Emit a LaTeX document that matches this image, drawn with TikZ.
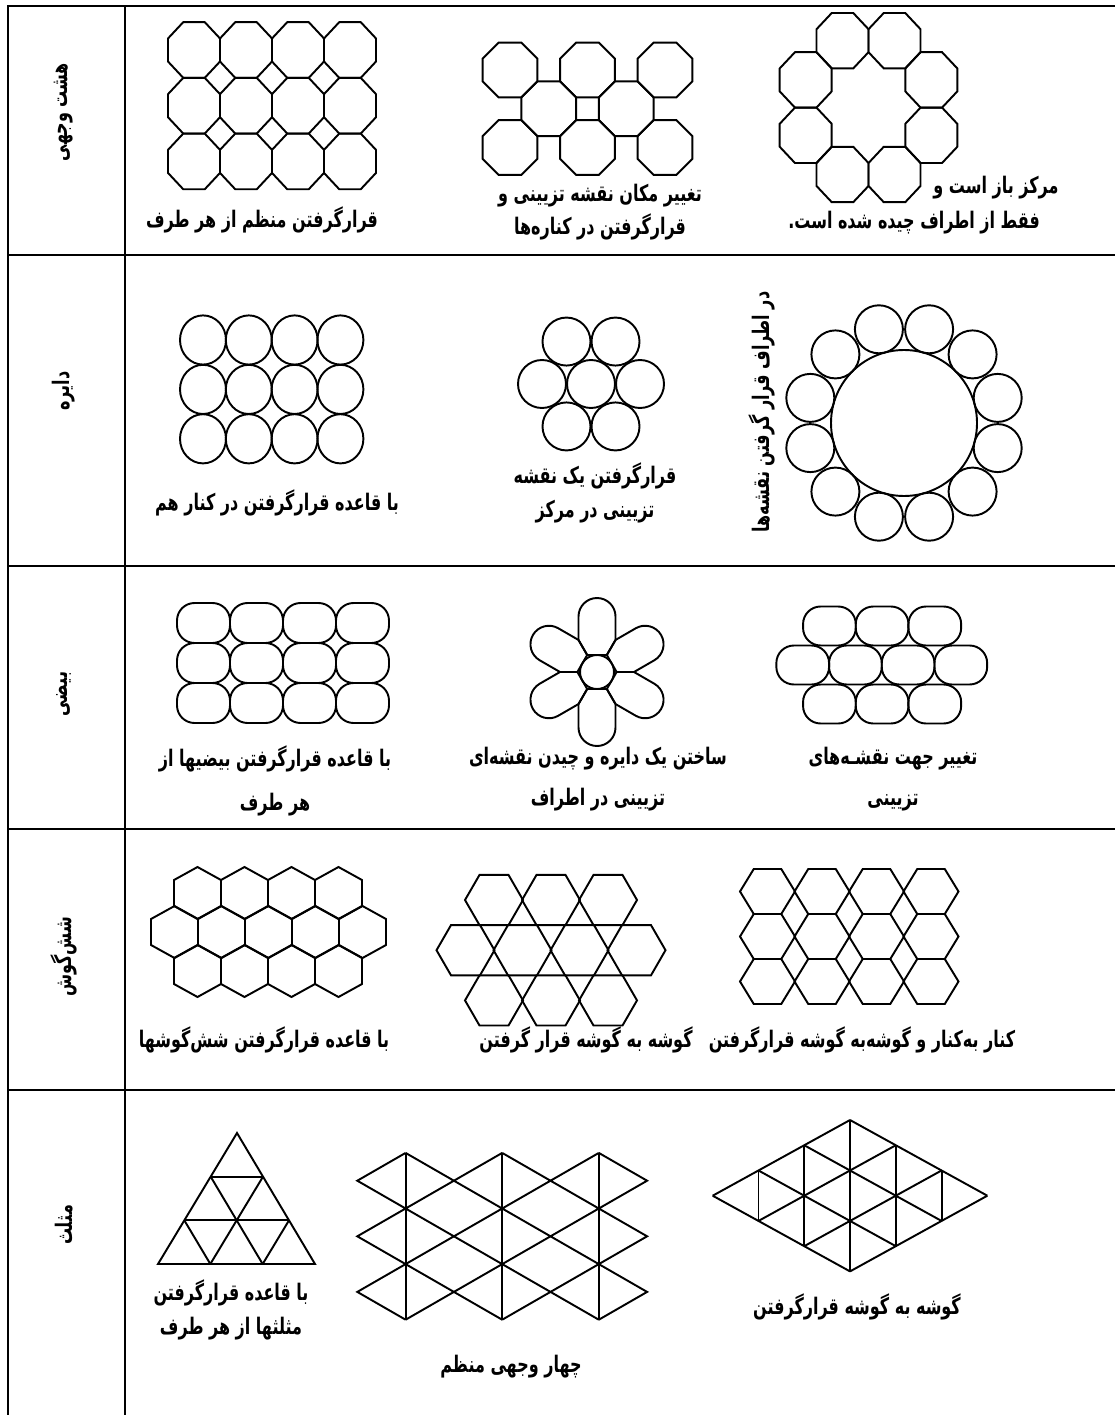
\documentclass[tikz,border=0pt]{standalone}
\usepackage{fontspec}
\usetikzlibrary{calc}
\newfontfamily\farsi[Script=Arabic, FakeStretch=0.7]{DejaVu Sans}
\TeXXeTstate=1
\newcommand{\rl}[1]{\beginR #1\endR}
\newcommand{\octa}[4]{\draw[tile,shift={(#1,#2)},yscale=#4] (-#3*0.4142,-#3) -- (#3*0.4142,-#3) -- (#3,-#3*0.4142) -- (#3,#3*0.4142) -- (#3*0.4142,#3) -- (-#3*0.4142,#3) -- (-#3,#3*0.4142) -- (-#3,-#3*0.4142) -- cycle;}
\newcommand{\hexp}[4]{\draw[tile,shift={(#1,#2)}] (0,-#4) -- (#3,-#4/2) -- (#3,#4/2) -- (0,#4) -- (-#3,#4/2) -- (-#3,-#4/2) -- cycle;}
\newcommand{\hexf}[4]{\draw[tile,shift={(#1,#2)}] (-#3,0) -- (-#3/2,-#4) -- (#3/2,-#4) -- (#3,0) -- (#3/2,#4) -- (-#3/2,#4) -- cycle;}
\newcommand{\stad}[4]{\draw[tile,rounded corners=10pt,shift={(#1,#2)}] (-#3,-#4) rectangle (#3,#4);}
\newcommand{\petal}[3]{\draw[tile,shift={(#1,#2)},rotate=#3] (17,-9.815) -- (32.04,-18.5) -- (55.5,-18.5) arc[start angle=-90,end angle=90,radius=18.5] -- (32.04,18.5) -- (17,9.815) -- cycle;}

\begin{document}
\begin{tikzpicture}[x=0.02cm, y=-0.02cm,
  rule/.style={line width=1.4pt},
  tile/.style={line width=1.1pt, line join=miter},
  capt/.style={font=\farsi\bfseries\fontsize{13}{19}\selectfont, align=center, inner sep=1pt},
  rowlab/.style={font=\farsi\bfseries\fontsize{13}{15}\selectfont, rotate=90, inner sep=1pt}
]
\useasboundingbox (0,0) rectangle (1115,1415);

\draw[rule] (8,1415) -- (8,6) -- (1115,6);
\draw[rule] (125,6) -- (125,1415);
\foreach \y in {255,566,829,1090} \draw[rule] (8,\y) -- (1115,\y);

\node[rowlab] (lab1) at (64,112)  {\rl{هشت وجهی}};
\node[rowlab] (lab2) at (64,391)  {\rl{دایره}};
\node[rowlab] (lab3) at (64,694)  {\rl{بیضی}};
\node[rowlab] (lab4) at (64,957)  {\rl{شش‌گوش}};
\node[rowlab] (lab5) at (64,1225) {\rl{مثلث}};

\foreach \i in {0,...,3} \foreach \j in {0,1,2} \octa{194+52*\i}{50+55.7*\j}{26}{1.07};
\foreach \i in {0,1,2} \foreach \j in {0,1} \octa{510+77.5*\i}{70+77.5*\j}{27.4}{1};
\foreach \i in {0,1} \octa{548.75+77.5*\i}{108.75}{27.4}{1};
\foreach \x/\y in {842.5/40.7, 894.5/40.7, 805.7/79.9, 931.3/79.9, 805.7/135.3, 931.3/135.3, 842.5/174.5, 894.5/174.5} \octa{\x}{\y}{26}{1.065};

\node[capt] (capA)  at (262,220) {\rl{قرارگرفتن منظم از هر طرف}};
\node[capt] (capB)  at (600,212) {\rl{تغییر مکان نقشه تزیینی و}\\ \rl{قرارگرفتن در کناره‌ها}};
\node[capt] (capC1) at (996,188) {\rl{مرکز باز است و}};
\node[capt] (capC2) at (914,223) {\rl{فقط از اطراف چیده شده است.}};

\foreach \i in {0,...,3} \foreach \j in {0,1,2} \draw[tile] (203+45.8*\i,340+49.4*\j) ellipse [x radius=23, y radius=24.6];
\draw[tile] (591,384) circle [radius=24];
\foreach \a in {0,60,...,300} \draw[tile,shift={(591,384)}] (\a:49) circle [radius=24];
\draw[tile] (904,423) circle [radius=73];
\foreach \a in {15,45,...,345} \draw[tile,shift={(904,423)}] (\a:97) circle [radius=24];

\node[capt] (capD) at (277,503)   {\rl{با قاعده قرارگرفتن در کنار هم}};
\node[capt] (capE) at (595,493)   {\rl{قرارگرفتن یک نقشه}\\ \rl{تزیینی در مرکز}};
\node[capt, rotate=90] (capF) at (762,412) {\rl{در اطراف قرار گرفتن نقشه‌ها}};

\foreach \i in {0,...,3} \foreach \j in {0,1,2} \stad{203.5+53*\i}{623+40*\j}{26.5}{20};
\draw[tile] (597,672) circle [radius=17];
\foreach \a in {30,90,...,330} \petal{597}{672}{\a};
\foreach \i in {0,1,2} \stad{829.4+52.7*\i}{626}{26.35}{19.5};
\foreach \i in {0,...,3} \stad{802.7+52.7*\i}{665}{26.35}{19.5};
\foreach \i in {0,1,2} \stad{829.4+52.7*\i}{704}{26.35}{19.5};

\node[capt] (capG) at (275,781) {\rl{با قاعده قرارگرفتن بیضیها از}\\[6pt] \rl{هر طرف}};
\node[capt] (capH) at (598,779) {\rl{ساختن یک دایره و چیدن نقشه‌ای}\\[4pt] \rl{تزیینی در اطراف}};
\node[capt] (capI) at (893,779) {\rl{تغییر جهت نقشـه‌های}\\[4pt] \rl{تزیینی}};

\foreach \i in {0,...,3} \hexp{197.5+47*\i}{893}{23.5}{26};
\foreach \i in {0,...,4} \hexp{174.5+47*\i}{932}{23.5}{26};
\foreach \i in {0,...,3} \hexp{197.5+47*\i}{971}{23.5}{26};
\foreach \i in {0,1,2} \hexf{494+57*\i}{900}{29}{25.1};
\foreach \i in {0,...,3} \hexf{465.5+57*\i}{950.2}{29}{25.1};
\foreach \i in {0,1,2} \hexf{494+57*\i}{1000.4}{29}{25.1};
\foreach \i in {0,...,3} \foreach \j in {0,1,2} \hexf{767.5+54.5*\i}{891.5+45*\j}{27.5}{22.5};

\node[capt] (capJ) at (264,1040) {\rl{با قاعده قرارگرفتن شش‌گوشها}};
\node[capt] (capK) at (586,1040) {\rl{گوشه به گوشه قرار گرفتن}};
\node[capt] (capL) at (862,1040) {\rl{کنار به‌کنار و گوشه‌به گوشه قرارگرفتن}};

\coordinate (tA) at (237,1133);
\coordinate (tB) at (158,1264);
\coordinate (tC) at (315,1264);
\draw[tile] (tA) -- (tB) -- (tC) -- cycle;
\foreach \t in {1/3,2/3} {
  \draw[tile] ($(tB)!\t!(tA)$) -- ($(tC)!\t!(tA)$);
  \draw[tile] ($(tB)!\t!(tC)$) -- ($(tA)!\t!(tC)$);
  \draw[tile] ($(tC)!\t!(tB)$) -- ($(tA)!\t!(tB)$);
}
\foreach \k in {1,3,5} \draw[tile] ({357.3+48.3*\k},1152.9) -- ({357.3+48.3*\k},1319.7);
\foreach \e/\o in {0/1,2/1,2/3,4/3,4/5,6/5}
  \draw[tile] ({357.3+48.3*\o},1152.9) -- ({357.3+48.3*\e},1180.7) -- ({357.3+48.3*\o},1208.5) -- ({357.3+48.3*\e},1236.3) -- ({357.3+48.3*\o},1264.1) -- ({357.3+48.3*\e},1291.9) -- ({357.3+48.3*\o},1319.7);
\foreach \a in {0,...,3} \draw[tile] ({712.7+45.77*\a},{1195.7-25.23*\a}) -- ({712.7+45.77*(\a+3)},{1195.7-25.23*\a+75.69});
\foreach \b in {0,...,3} \draw[tile] ({712.7+45.77*\b},{1195.7+25.23*\b}) -- ({712.7+45.77*(\b+3)},{1195.7+25.23*\b-75.69});
\foreach \s/\m in {1/1,2/2,3/3,4/2,5/1} \draw[tile] ({712.7+45.77*\s},{1195.7-25.23*\m}) -- ({712.7+45.77*\s},{1195.7+25.23*\m});

\node[capt] (capM) at (231,1310) {\rl{با قاعده قرارگرفتن}\\ \rl{مثلثها از هر طرف}};
\node[capt] (capN) at (511,1367) {\rl{چهار وجهی منظم}};
\node[capt] (capO) at (857,1307) {\rl{گوشه به گوشه قرارگرفتن}};
\end{tikzpicture}
\end{document}
